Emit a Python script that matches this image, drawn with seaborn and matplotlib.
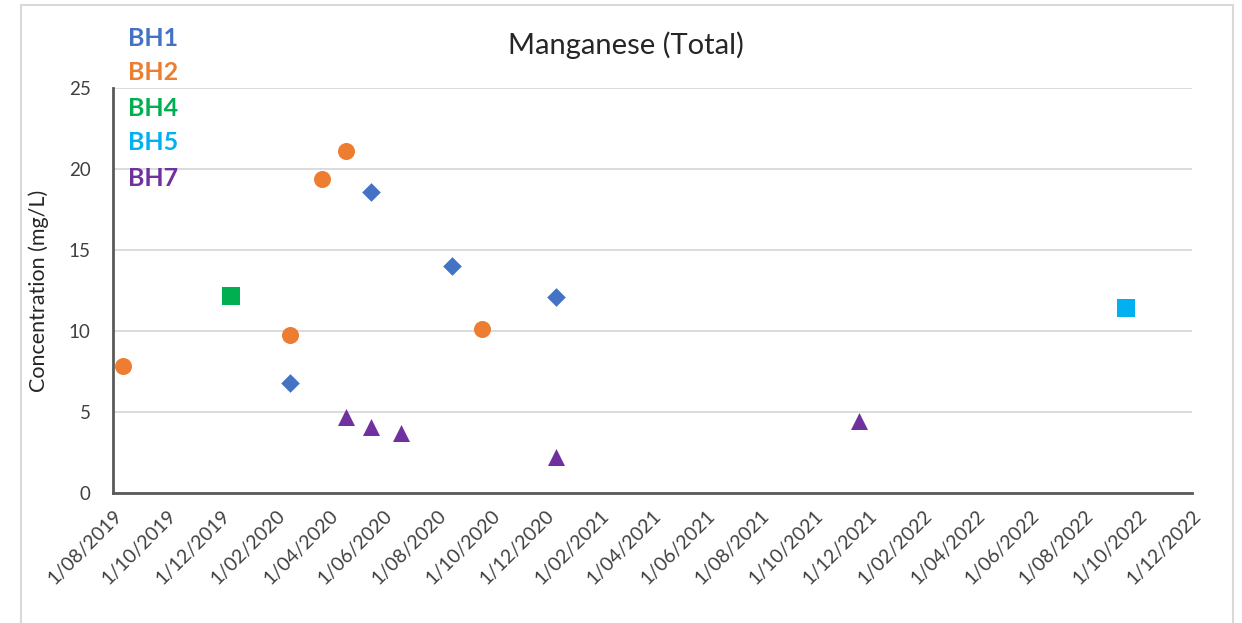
import pandas as pd
import matplotlib.pyplot as plt
from matplotlib.lines import Line2D
import seaborn as sns

# sample dates and Mn (total) concentrations, mg/L
bh1_dates = ['2020-02-17', '2020-05-18', '2020-08-18', '2020-12-13']
bh1_values = [6.8, 18.6, 14.0, 12.1]
bh2_dates = ['2019-08-12', '2020-02-17', '2020-03-24', '2020-04-20', '2020-09-20']
bh2_values = [7.85, 9.75, 19.4, 21.1, 10.1]
bh4_dates = ['2019-12-12']
bh4_values = [12.15]
bh5_dates = ['2022-09-18']
bh5_values = [11.4]
bh7_dates = ['2020-04-20', '2020-05-18', '2020-06-21', '2020-12-13', '2021-11-20']
bh7_values = [4.7, 4.1, 3.7, 2.2, 4.45]

bores = ['BH1', 'BH2', 'BH4', 'BH5', 'BH7']
colors = {'BH1': '#4472C4', 'BH2': '#ED7D31', 'BH4': '#00B050', 'BH5': '#00B0F0', 'BH7': '#7030A0'}
markers = {'BH1': 'D', 'BH2': 'o', 'BH4': 's', 'BH5': 's', 'BH7': '^'}
msize = {'BH1': 90, 'BH2': 150, 'BH4': 150, 'BH5': 150, 'BH7': 150}

frames = []
for name, d, v in [('BH1', bh1_dates, bh1_values), ('BH2', bh2_dates, bh2_values),
                   ('BH4', bh4_dates, bh4_values), ('BH5', bh5_dates, bh5_values),
                   ('BH7', bh7_dates, bh7_values)]:
    frames.append(pd.DataFrame({'Date': pd.to_datetime(d), 'Mn': v, 'Bore': name}))
df = pd.concat(frames, ignore_index=True)

tick_dates = pd.date_range('2019-08-01', '2022-12-01', freq='2MS')
tick_labels = ['1/%02d/%d' % (t.month, t.year) for t in tick_dates]

sns.set_style('white')
plt.rcParams['font.family'] = ['Lato', 'DejaVu Sans']

fig = plt.figure(figsize=(12.42, 6.23), dpi=100)
ax = fig.add_axes([113 / 1242, 1 - 493 / 623, (1192 - 113) / 1242, (493 - 88) / 623])

for b in bores:
    sub = df[df['Bore'] == b]
    sns.scatterplot(data=sub, x='Date', y='Mn', ax=ax, color=colors[b], marker=markers[b],
                    s=msize[b], linewidth=0, legend=False, zorder=3)

ax.set_xlim(tick_dates[0], tick_dates[-1])
ax.set_ylim(0, 25)
ax.set_yticks([0, 5, 10, 15, 20, 25])
ax.set_xticks(tick_dates)
ax.set_xticklabels(tick_labels, rotation=45, ha='right', rotation_mode='anchor')
ax.tick_params(axis='x', length=5, width=1.5, color='#595959', labelsize=14, labelcolor='#404040', pad=5)
ax.tick_params(axis='y', length=0, labelsize=13.5, labelcolor='#404040', pad=16)
ax.grid(axis='y', color='#D9D9D9', linewidth=1.3)
ax.set_axisbelow(True)
for side in ['top', 'right']:
    ax.spines[side].set_visible(False)
for side in ['left', 'bottom']:
    ax.spines[side].set_color('#595959')
    ax.spines[side].set_linewidth(2)
ax.set_xlabel('')
ax.set_ylabel('Concentration (mg/L)', fontsize=15.5, color='#262626', labelpad=14)

fig.text(626 / 1242, 1 - 45 / 623, 'Manganese (Total)', ha='center', va='center',
         fontsize=21, color='#262626')

label_y = [38, 72, 108, 143, 178]
for b, yy in zip(bores, label_y):
    fig.text(128 / 1242, 1 - yy / 623, b, ha='left', va='center', fontsize=18,
             fontweight='bold', color=colors[b])

# chart area border
bx0, bx1, by0 = 21 / 1242, 1233 / 1242, 1 - 5 / 623
for xs, ys in [([bx0, bx1], [by0, by0]), ([bx0, bx0], [by0, -0.1]), ([bx1, bx1], [by0, -0.1])]:
    fig.add_artist(Line2D(xs, ys, color='#D9D9D9', linewidth=1.5, transform=fig.transFigure))

fig.savefig('out.png', dpi=100, facecolor='white')
